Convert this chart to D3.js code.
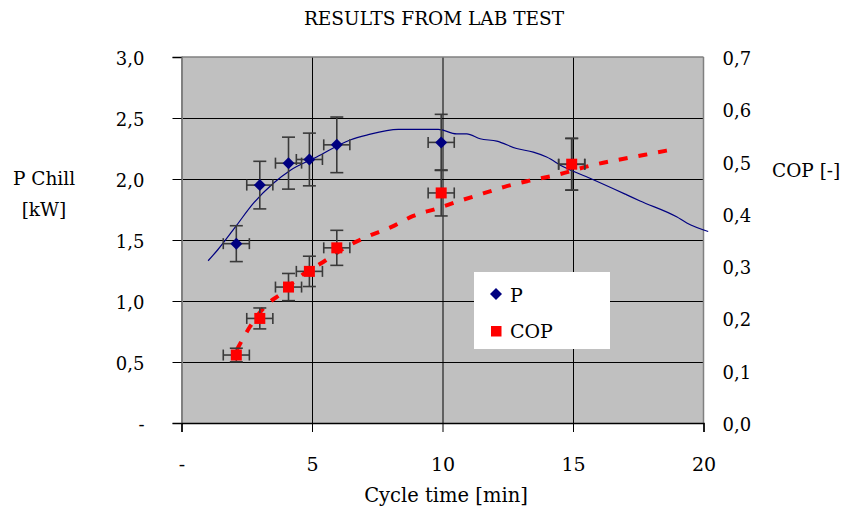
<!DOCTYPE html>
<html>
<head>
<meta charset="utf-8">
<script src="https://cdn.jsdelivr.net/npm/d3@7"></script>
<style>
  html, body { margin: 0; padding: 0; background: #fff; }
  svg { display: block; }
  text { font-family: "DejaVu Serif", serif; fill: #000; }
</style>
</head>
<body>
<svg id="chart" width="846" height="510"></svg>
<script>
// ---- data ----
const cycleTime = [2.1, 3.0, 4.1, 4.9, 5.95, 9.95, 14.95];
const pChill    = [1.47, 1.95, 2.13, 2.16, 2.28, 2.30, 2.12];
const pErr      = [0.147, 0.195, 0.213, 0.216, 0.228, 0.230, 0.212];
const cop       = [0.13, 0.20, 0.26, 0.29, 0.335, 0.44, 0.495];
const copErr    = [0.013, 0.020, 0.026, 0.029, 0.0335, 0.044, 0.0495];
const timeErr   = [0.5, 0.5, 0.5, 0.5, 0.5, 0.5, 0.5];

const pTrendX = [1.02, 1.39, 2.11, 2.75, 3.52, 4.16, 5.18, 6.46, 7.1, 8.31, 9.84, 10.54, 10.93, 11.44, 12.08, 12.84, 13.48, 13.99, 14.63, 15.65, 17.06, 17.57, 18.97, 19.36, 20.18];
const pTrendY = [1.33, 1.42, 1.62, 1.80, 1.965, 2.07, 2.18, 2.32, 2.36, 2.407, 2.407, 2.37, 2.37, 2.33, 2.31, 2.25, 2.22, 2.18, 2.10, 2.006, 1.87, 1.82, 1.69, 1.64, 1.57];

const copTrendX = [2.12, 2.62, 3.26, 3.84, 4.54, 5.43, 6.39, 7.1, 8.05, 8.88, 9.78, 10.67, 11.56, 12.46, 13.29, 14.25, 15.9, 16.8, 17.76, 18.7];
const copTrendY = [0.14, 0.184, 0.226, 0.248, 0.28, 0.308, 0.339, 0.356, 0.375, 0.396, 0.41, 0.425, 0.439, 0.453, 0.463, 0.473, 0.495, 0.504, 0.513, 0.522];

const xTicks  = [0, 5, 10, 15, 20];
const yLTicks = [0, 0.5, 1.0, 1.5, 2.0, 2.5, 3.0];
const yRTicks = [0, 0.1, 0.2, 0.3, 0.4, 0.5, 0.6, 0.7];

const title = "RESULTS FROM LAB TEST";
const xTitle = "Cycle time [min]";
const yLTitle = ["P Chill", "[kW]"];
const yRTitle = "COP [-]";
const seriesNames = ["P", "COP"];

// ---- layout ----
const L = 181.5, R = 703.5, T = 57, B = 423;
const svg = d3.select("#chart");
const x  = d3.scaleLinear().domain([0, 20]).range([L, R]);
const yL = d3.scaleLinear().domain([0, 3]).range([B, T]);
const yR = d3.scaleLinear().domain([0, 0.7]).range([B, T]);

const fmtL = d => d === 0 ? "-" : d3.format(".1f")(d).replace(".", ",");
const fmtR = d => d3.format(".1f")(d).replace(".", ",");
const fmtX = d => d === 0 ? "-" : String(d);

// plot background
svg.append("rect").attr("x", L).attr("y", T).attr("width", R - L).attr("height", B - T)
  .attr("fill", "#C0C0C0");

// gridlines
const gY = svg.append("g").attr("transform", `translate(${L},0)`)
  .call(d3.axisLeft(yL).tickValues(yLTicks.filter(v => v > 0 && v < 3)).tickSize(-(R - L)).tickFormat(""));
gY.select(".domain").remove();
gY.selectAll("line").attr("stroke", "#000").attr("stroke-width", 1);
const gX = svg.append("g").attr("transform", `translate(0,${B})`)
  .call(d3.axisBottom(x).tickValues(xTicks.filter(v => v > 0 && v < 20)).tickSize(-(B - T)).tickFormat(""));
gX.select(".domain").remove();
gX.selectAll("line").attr("stroke", "#000").attr("stroke-width", 1);

// borders
svg.append("line").attr("x1", L).attr("x2", R).attr("y1", T).attr("y2", T).attr("stroke", "#808080").attr("stroke-width", 1.5);
svg.append("line").attr("x1", R).attr("x2", R).attr("y1", T).attr("y2", B).attr("stroke", "#808080").attr("stroke-width", 1.5);

// left axis
const axL = svg.append("g").attr("transform", `translate(${L},0)`)
  .call(d3.axisLeft(yL).tickValues(yLTicks).tickSize(9).tickPadding(28).tickFormat(fmtL));
axL.select(".domain").attr("stroke", "#808080").attr("stroke-width", 2);
axL.selectAll("line").attr("stroke", "#000");
axL.selectAll("text").style("font-family", "DejaVu Serif").style("font-size", "18px").attr("dy", "0.42em");

// right axis
const axR = svg.append("g").attr("transform", `translate(${R},0)`)
  .call(d3.axisRight(yR).tickValues(yRTicks).tickSize(0).tickPadding(19).tickFormat(fmtR));
axR.select(".domain").remove();
axR.selectAll("text").style("font-family", "DejaVu Serif").style("font-size", "18px").attr("dy", "0.42em");

// bottom axis
const axB = svg.append("g").attr("transform", `translate(0,${B})`)
  .call(d3.axisBottom(x).tickValues(xTicks).tickSize(9).tickPadding(26).tickFormat(fmtX));
axB.select(".domain").attr("stroke", "#000").attr("stroke-width", 1.5);
axB.selectAll("line").attr("stroke", "#000");
axB.selectAll("text").style("font-family", "DejaVu Serif").style("font-size", "19px");

// titles
svg.append("text").attr("x", 434).attr("y", 25).attr("text-anchor", "middle")
  .style("font-size", "18.5px").text(title);
svg.append("text").attr("x", 446).attr("y", 502).attr("text-anchor", "middle")
  .style("font-size", "19.5px").text(xTitle);
svg.append("text").attr("x", 44).attr("y", 185).attr("text-anchor", "middle")
  .style("font-size", "18.5px").text(yLTitle[0]);
svg.append("text").attr("x", 44).attr("y", 216).attr("text-anchor", "middle")
  .style("font-size", "18.5px").text(yLTitle[1]);
svg.append("text").attr("x", 772).attr("y", 177).attr("text-anchor", "start")
  .style("font-size", "18.5px").text(yRTitle);

// trendlines
const pTrend = pTrendX.map((d, i) => [d, pTrendY[i]]);
const copTrend = copTrendX.map((d, i) => [d, copTrendY[i]]);
svg.append("path").datum(pTrend)
  .attr("d", d3.line().x(d => x(d[0])).y(d => yL(d[1])).curve(d3.curveMonotoneX))
  .attr("fill", "none").attr("stroke", "#000080").attr("stroke-width", 1.2);
svg.append("path").datum(copTrend)
  .attr("d", d3.line().x(d => x(d[0])).y(d => yR(d[1])).curve(d3.curveMonotoneX))
  .attr("fill", "none").attr("stroke", "#FF0000").attr("stroke-width", 4)
  .attr("stroke-dasharray", "9,11");

// error bars
function errorBars(vals, errs, yScale) {
  const g = svg.append("g").attr("stroke", "#3a3a3a").attr("stroke-width", 1.6).attr("fill", "none");
  cycleTime.forEach((t, i) => {
    const cx = x(t), cy = yScale(vals[i]);
    const y1 = yScale(vals[i] + errs[i]), y2 = yScale(vals[i] - errs[i]);
    const x1 = x(t - timeErr[i]), x2 = x(t + timeErr[i]);
    g.append("line").attr("x1", cx).attr("x2", cx).attr("y1", y1).attr("y2", y2);
    g.append("line").attr("x1", cx - 6.5).attr("x2", cx + 6.5).attr("y1", y1).attr("y2", y1);
    g.append("line").attr("x1", cx - 6.5).attr("x2", cx + 6.5).attr("y1", y2).attr("y2", y2);
    g.append("line").attr("x1", x1).attr("x2", x2).attr("y1", cy).attr("y2", cy);
    g.append("line").attr("x1", x1).attr("x2", x1).attr("y1", cy - 5.5).attr("y2", cy + 5.5);
    g.append("line").attr("x1", x2).attr("x2", x2).attr("y1", cy - 5.5).attr("y2", cy + 5.5);
  });
}
errorBars(pChill, pErr, yL);
errorBars(cop, copErr, yR);

// markers
const diamond = d3.symbol().type(d3.symbolDiamond2 || d3.symbolDiamond).size(70);
const diamondPath = "M0,-6L6,0L0,6L-6,0Z";
svg.append("g").selectAll("path").data(cycleTime).join("path")
  .attr("transform", (t, i) => `translate(${x(t)},${yL(pChill[i])})`)
  .attr("d", diamondPath).attr("fill", "#000080");
svg.append("g").selectAll("rect").data(cycleTime).join("rect")
  .attr("x", (t) => x(t) - 5.5).attr("y", (t, i) => yR(cop[i]) - 5.5)
  .attr("width", 11).attr("height", 11).attr("fill", "#FF0000");

// legend
const lg = svg.append("g");
lg.append("rect").attr("x", 474).attr("y", 272).attr("width", 136).attr("height", 77).attr("fill", "#fff");
lg.append("path").attr("transform", "translate(496,294)").attr("d", diamondPath).attr("fill", "#000080");
lg.append("rect").attr("x", 491).attr("y", 326).attr("width", 10.5).attr("height", 10.5).attr("fill", "#FF0000");
lg.append("text").attr("x", 510).attr("y", 302).style("font-size", "19px").text(seriesNames[0]);
lg.append("text").attr("x", 510).attr("y", 338).style("font-size", "19px").text(seriesNames[1]);
</script>
</body>
</html>
